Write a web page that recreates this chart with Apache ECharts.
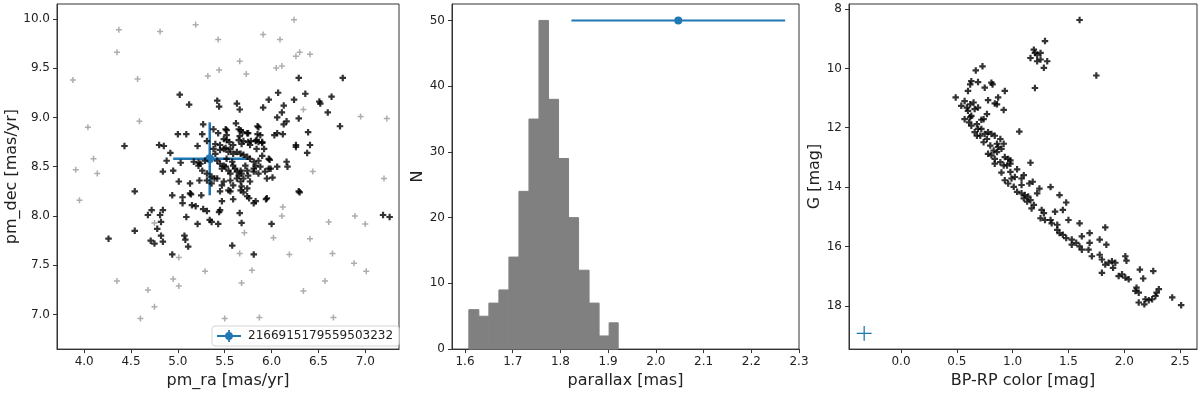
<!DOCTYPE html>
<html>
<head>
<meta charset="utf-8">
<script src="https://cdn.jsdelivr.net/npm/echarts@6/dist/echarts.min.js"></script>
<style>
  html, body { margin: 0; padding: 0; background: #fff; }
  #chart { width: 1200px; height: 394px; }
</style>
</head>
<body>
<div id="chart"></div>
<script>
// 成员星 (black) proper motions [pm_ra, pm_dec]
var memberPm = [
  [4.26,7.77],[4.43,8.71],[4.54,8.25],[4.54,7.85],[4.68,8.01],[4.72,8.06],[4.78,7.87],[4.81,8.01],[4.82,7.94],[4.84,8.06],
  [4.71,7.75],[4.75,7.72],[4.82,7.80],[4.84,7.74],[4.80,8.72],[4.85,8.71],[4.88,8.56],[4.92,8.64],[4.84,8.45],[4.95,8.46],
  [4.94,8.21],[4.94,7.61],[5.01,8.35],[5.00,8.83],[5.02,9.23],[5.03,8.54],[5.05,8.19],[5.05,8.13],[5.09,8.83],[5.09,7.99],
  [5.07,7.80],[5.08,7.76],[5.11,7.69],[5.12,9.13],[5.13,8.23],[5.13,8.33],[5.14,8.22],[5.15,8.11],[5.19,8.10],[5.21,8.71],
  [5.22,8.54],[5.23,8.36],[5.21,7.92],[5.26,8.83],[5.27,8.93],[5.25,8.21],[5.27,8.07],[5.31,8.05],[5.31,8.76],[5.31,8.36],
  [5.34,7.96],[5.36,7.94],[5.38,8.68],[5.39,8.38],[5.42,9.17],[5.44,9.11],[5.43,8.84],[5.44,8.04],[5.43,7.92],[5.45,8.06],
  [5.47,8.15],[5.51,8.88],[5.52,8.82],[5.58,7.70],[5.59,8.17],[5.56,8.25],[5.63,9.14],[5.62,8.94],[5.66,9.08],[5.65,8.88],
  [5.66,8.81],[5.66,8.03],[5.68,7.93],[5.70,8.76],[5.70,8.24],[5.74,8.20],[5.75,8.84],[5.76,8.18],[5.78,8.76],[5.81,8.13],
  [5.81,7.61],[5.85,8.91],[5.86,8.75],[5.90,8.74],[5.91,9.10],[5.94,8.17],[5.97,9.18],[6.01,8.39],[6.00,7.92],[6.03,8.82],
  [6.06,8.84],[6.06,9.00],[6.07,9.25],[6.06,8.50],[6.11,9.05],[6.12,8.83],[6.13,8.93],[6.13,9.12],[6.16,8.96],[6.16,8.55],
  [6.17,8.50],[6.24,9.18],[6.26,8.72],[6.26,8.70],[6.29,8.99],[6.29,9.40],[6.29,8.25],[6.30,8.24],[6.36,9.24],[6.38,8.64],
  [6.39,8.85],[6.41,8.72],[6.51,9.16],[6.52,9.14],[6.60,9.05],[6.64,9.21],[6.73,8.91],[6.76,9.40],[7.19,8.01],[7.26,7.99],
  [5.52,8.87],[5.67,8.87],[5.69,8.85],[5.74,8.84],[5.86,8.90],[5.85,8.83],[5.88,8.82],[5.52,8.77],[5.55,8.75],[5.59,8.72],
  [5.65,8.77],[5.68,8.73],[5.75,8.75],[5.77,8.72],[5.83,8.76],[5.90,8.75],[5.84,8.68],[5.92,8.68],[5.40,8.73],[5.45,8.72],
  [5.49,8.68],[5.45,8.67],[5.51,8.69],[5.56,8.68],[5.54,8.65],[5.59,8.63],[5.63,8.65],[5.67,8.63],[5.70,8.62],[5.74,8.60],
  [5.77,8.58],[5.81,8.55],[5.83,8.51],[5.86,8.56],[5.88,8.50],[5.81,8.48],[5.97,8.58],[5.99,8.48],[5.17,8.55],[5.22,8.51],
  [5.24,8.53],[5.29,8.56],[5.26,8.46],[5.40,8.63],[5.42,8.56],[5.45,8.53],[5.49,8.51],[5.47,8.48],[5.51,8.50],[5.54,8.46],
  [5.56,8.43],[5.52,8.58],[5.58,8.55],[5.59,8.51],[5.61,8.48],[5.63,8.45],[5.65,8.41],[5.67,8.46],[5.68,8.43],[5.70,8.38],
  [5.72,8.51],[5.74,8.46],[5.75,8.41],[5.31,8.43],[5.36,8.40],[5.42,8.38],[5.49,8.35],[5.47,8.31],[5.56,8.36],[5.59,8.31],
  [5.63,8.38],[5.67,8.35],[5.68,8.30],[5.77,8.35],[5.81,8.45],[5.86,8.43],[5.93,8.45],[5.95,8.38],[5.97,8.48],[5.36,8.33],
  [5.45,8.25],[5.54,8.26],[5.67,8.26],[5.74,8.28],[5.83,8.15],[5.95,8.18],[5.38,8.88],[5.49,8.78],[5.84,8.77],[5.98,8.57],
  [5.90,8.61]
];

// 场星 (grey)
var fieldPm = [
  [3.88,9.38],[3.91,8.47],[3.95,8.16],[4.04,8.90],[4.10,8.58],[4.14,8.43],[4.35,9.66],[4.37,9.89],[4.35,7.34],[4.57,9.39],
  [4.59,8.96],[4.60,6.96],[4.68,7.25],[4.75,7.08],[4.75,7.93],[4.81,9.87],[4.95,7.36],[5.01,7.29],[5.01,7.58],[5.19,9.94],
  [5.29,7.44],[5.32,9.42],[5.43,9.79],[5.44,9.48],[5.50,6.96],[5.66,9.57],[5.66,7.62],[5.68,7.32],[5.73,9.44],[5.71,7.83],
  [5.79,7.45],[5.87,6.97],[5.91,9.84],[6.02,7.78],[6.05,9.50],[6.09,9.79],[6.11,9.52],[6.12,8.09],[6.11,8.00],[6.19,7.61],
  [6.24,9.99],[6.26,9.62],[6.30,9.66],[6.34,9.08],[6.34,7.24],[6.41,9.64],[6.41,7.77],[6.44,8.45],[6.61,7.94],[6.57,7.34],
  [6.65,7.62],[6.66,6.97],[6.88,7.52],[6.89,8.00],[6.95,9.01],[7.00,7.92],[7.01,7.44],[7.20,8.38],[7.23,8.99]
];

// 目标星 [x, y, xerr, yerr]
var targetPm = [[5.34, 8.58, 0.39, 0.37]];
var targetName = '2166915179559503232';
var targetPlx = [[2.047, 50, 0.224, 0]];
var targetCmdErr = [[-0.33, 18.93, 0.067, 0.25]];

// 直方图
var histEdges = [1.608,1.629,1.650,1.671,1.692,1.713,1.734,1.755,1.775,1.796,1.817,1.838,1.860,1.881,1.902,1.921];
var histCounts = [6,5,7,9,14,24,35,50,38,29,20,12,7,2,4];

// 颜色-星等图 [BP-RP, G]
var cmdPoints = [
  [1.60,8.37],[1.29,9.08],[1.19,9.37],[1.20,9.48],[1.22,9.54],[1.25,9.48],[1.16,9.65],[1.22,9.76],[1.25,9.70],[1.31,9.76],
  [1.28,9.98],[1.20,10.66],[1.75,10.24],[0.67,10.07],[0.73,9.93],[1.06,12.13],[1.16,13.18],[1.34,14.00],
  [0.63,10.43],[0.62,10.54],[0.69,10.46],[0.75,10.65],[0.81,10.48],[0.60,10.76],[0.49,10.98],[0.78,11.07],[0.87,10.98],[0.86,11.21],
  [0.93,10.76],[0.92,11.40],[0.54,11.26],[0.57,11.10],[0.59,11.32],[0.62,11.21],[0.60,11.43],[0.65,11.15],[0.66,11.37],[0.69,11.32],
  [0.63,11.60],[0.57,11.71],[0.62,11.65],[0.77,11.54],[0.74,11.71],[0.61,11.82],[0.63,11.93],[0.68,11.88],[0.69,12.04],[0.66,12.15],
  [0.72,12.04],[0.71,12.27],[0.75,12.21],[0.78,12.15],[0.81,12.21],[0.77,12.38],[0.74,12.49],[0.68,12.27],[0.84,12.27],[0.89,12.38],
  [0.92,12.54],[0.86,12.54],[0.80,12.60],[0.83,12.77],[0.87,12.65],[0.90,12.71],[0.78,12.88],[0.81,12.93],[0.84,13.05],[0.89,13.16],
  [0.93,12.99],[0.96,13.05],[0.92,13.27],[0.98,13.21],[0.86,12.82],[0.84,13.21],[0.95,13.27],[0.98,13.10],[0.90,13.51],[0.98,13.49],
  [1.04,13.40],[0.99,13.71],[0.93,13.77],[1.02,13.66],[1.08,13.71],[1.10,13.60],[0.96,13.88],[1.01,13.99],[1.04,14.16],[1.08,13.93],
  [1.15,13.88],[1.18,13.82],[1.24,14.05],[1.08,14.21],[1.11,14.27],[1.14,14.32],[1.10,14.38],[1.13,14.49],[1.16,14.44],[1.19,14.60],
  [1.17,14.72],[1.22,14.21],[1.42,14.27],[1.48,14.52],[1.26,14.77],[1.28,14.88],[1.25,15.05],[1.29,15.11],[1.34,15.11],[1.35,15.22],
  [1.38,14.83],[1.40,15.27],[1.45,14.77],[1.50,15.11],[1.60,15.22],[1.83,15.36],[1.40,15.44],[1.42,15.55],[1.45,15.61],[1.48,15.72],
  [1.53,15.77],[1.53,15.94],[1.57,15.88],[1.60,16.00],[1.62,15.66],[1.69,15.55],[1.62,16.11],[1.69,15.88],[1.68,16.11],[1.71,16.33],
  [1.78,16.28],[1.80,16.44],[1.78,15.77],[1.84,15.94],[1.83,16.61],[1.86,16.55],[1.89,16.50],[1.92,16.55],[1.90,16.72],[1.80,16.89],
  [2.01,16.33],[2.02,16.48],[1.95,17.00],[1.98,16.94],[2.01,17.05],[2.04,17.11],[2.11,17.39],[2.10,17.50],[2.13,17.56],[2.17,17.08],
  [2.26,16.83],[2.14,16.78],[2.13,17.89],[2.18,17.95],[2.19,17.78],[2.22,17.81],[2.25,17.78],[2.28,17.67],[2.29,17.56],[2.31,17.44],
  [2.43,17.72],[2.51,17.98],[0.72,11.73],[0.84,11.18],[0.82,10.54]
];

// 刻度
var pmRaTicks = [4.0,4.5,5.0,5.5,6.0,6.5,7.0];
var pmDecTicks = [7.0,7.5,8.0,8.5,9.0,9.5,10.0];
var plxTicks = [1.6,1.7,1.8,1.9,2.0,2.1,2.2,2.3];
var nTicks = [0,10,20,30,40,50];
var colorTicks = [0.0,0.5,1.0,1.5,2.0,2.5];
var gTicks = [8,10,12,14,16,18];

var myChart = echarts.init(document.getElementById('chart'));

var FONT = 'DejaVu Sans';
var BLUE = '#1f77b4';
var PLUS = 'path://M-1.35,-4H1.35V-1.35H4V1.35H1.35V4H-1.35V1.35H-4V-1.35H-1.35Z';
var PLUS_THIN = 'path://M-1,-4H1V-1H4V1H1V4H-1V1H-4V-1H-1Z';
var LEGEND_ICON = 'path://M0,8.5H40V11.5H0Z M13.5,10a6.5,6.5 0 1,1 13,0a6.5,6.5 0 1,1 -13,0Z M18.5,0H21.5V20H18.5Z';

function fmt1(v) { return Number(v).toFixed(1); }
function fmt0(v) { return String(Math.round(v)); }

function axis(ticks, formatter, extra) {
  var a = {
    type: 'value',
    axisLine: { show: true, onZero: false, lineStyle: { color: '#333', width: 1 } },
    axisTick: { show: true, length: 4, lineStyle: { color: '#333' }, customValues: ticks },
    axisLabel: { customValues: ticks, formatter: formatter, color: '#222', fontFamily: FONT, fontSize: 12, margin: 7 },
    splitLine: { show: false },
    nameLocation: 'middle',
    nameTextStyle: { color: '#222', fontFamily: FONT, fontSize: 16 }
  };
  for (var k in extra) a[k] = extra[k];
  return a;
}

// 误差棒
function errRender(lw, r) {
  return function (params, api) {
    var x = api.value(0), y = api.value(1), ex = api.value(2), ey = api.value(3);
    var c = api.coord([x, y]);
    var l = api.coord([x - ex, y]), rr = api.coord([x + ex, y]);
    var t = api.coord([x, y + ey]), b = api.coord([x, y - ey]);
    var st = { stroke: BLUE, lineWidth: lw };
    var children = [
      { type: 'line', shape: { x1: l[0], y1: l[1], x2: rr[0], y2: rr[1] }, style: st }
    ];
    if (ey > 0) children.push({ type: 'line', shape: { x1: t[0], y1: t[1], x2: b[0], y2: b[1] }, style: st });
    if (r > 0) children.push({ type: 'circle', shape: { cx: c[0], cy: c[1], r: r }, style: { fill: BLUE } });
    return { type: 'group', children: children };
  };
}

var histData = histCounts.map(function (n, i) { return [histEdges[i], histEdges[i + 1], n]; });

var option = {
  animation: false,
  backgroundColor: '#fff',
  grid: [
    { left: 57, top: 4, width: 342, height: 348, show: true, borderColor: '#333', borderWidth: 1 },
    { left: 452, top: 4, width: 347, height: 348, show: true, borderColor: '#333', borderWidth: 1 },
    { left: 849, top: 4, width: 348, height: 348, show: true, borderColor: '#333', borderWidth: 1 }
  ],
  legend: {
    data: [{ name: targetName, icon: LEGEND_ICON, itemStyle: { color: BLUE, opacity: 1 } }],
    left: 212, top: 326,
    padding: [4, 6, 4, 5],
    itemWidth: 24, itemHeight: 12, itemGap: 6,
    borderColor: '#d5d5d5', borderWidth: 1, borderRadius: 3,
    backgroundColor: 'rgba(255,255,255,0.8)',
    textStyle: { fontFamily: FONT, fontSize: 12, color: '#222', padding: [0, 0, 0, 2] }
  },
  xAxis: [
    axis(pmRaTicks, fmt1, { gridIndex: 0, min: 3.71, max: 7.36, name: 'pm_ra [mas/yr]', nameGap: 21 }),
    axis(plxTicks, fmt1, { gridIndex: 1, min: 1.5727, max: 2.3, name: 'parallax [mas]', nameGap: 21 }),
    axis(colorTicks, fmt1, { gridIndex: 2, min: -0.466, max: 2.652, name: 'BP-RP color [mag]', nameGap: 21 })
  ],
  yAxis: [
    axis(pmDecTicks, fmt1, { gridIndex: 0, min: 6.65, max: 10.15, name: 'pm_dec [mas/yr]', nameGap: 35 }),
    axis(nTicks, fmt0, { gridIndex: 1, min: 0, max: 52.5, name: 'N', nameGap: 24 }),
    axis(gTicks, fmt0, { gridIndex: 2, min: 7.83, max: 19.46, inverse: true, name: 'G [mag]', nameGap: 24 })
  ],
  series: [
    {
      type: 'scatter', xAxisIndex: 0, yAxisIndex: 0, data: fieldPm,
      symbol: PLUS_THIN, symbolSize: 6, itemStyle: { color: '#999' }, silent: true
    },
    {
      type: 'scatter', xAxisIndex: 0, yAxisIndex: 0, data: memberPm,
      symbol: PLUS, symbolSize: 6.5, itemStyle: { color: '#000' }, silent: true
    },
    {
      name: targetName, type: 'custom', xAxisIndex: 0, yAxisIndex: 0,
      data: targetPm, encode: { x: 0, y: 1 },
      itemStyle: { color: BLUE },
      renderItem: errRender(2.5, 4.5)
    },
    {
      type: 'custom', xAxisIndex: 1, yAxisIndex: 1,
      data: histData, encode: { x: [0, 1], y: 2 },
      renderItem: function (params, api) {
        var p0 = api.coord([api.value(0), api.value(2)]);
        var p1 = api.coord([api.value(1), 0]);
        return { type: 'rect', shape: { x: p0[0], y: p0[1], width: p1[0] - p0[0], height: p1[1] - p0[1] },
                 style: { fill: '#808080', stroke: '#808080', lineWidth: 1 } };
      }
    },
    {
      type: 'custom', xAxisIndex: 1, yAxisIndex: 1,
      data: targetPlx, encode: { x: 0, y: 1 },
      renderItem: errRender(2, 4)
    },
    {
      type: 'scatter', xAxisIndex: 2, yAxisIndex: 2, data: cmdPoints,
      symbol: PLUS, symbolSize: 6.5, itemStyle: { color: '#000' }, silent: true
    },
    {
      type: 'custom', xAxisIndex: 2, yAxisIndex: 2,
      data: targetCmdErr, encode: { x: 0, y: 1 },
      renderItem: errRender(1.3, 0)
    }
  ]
};

myChart.setOption(option);
</script>
</body>
</html>
